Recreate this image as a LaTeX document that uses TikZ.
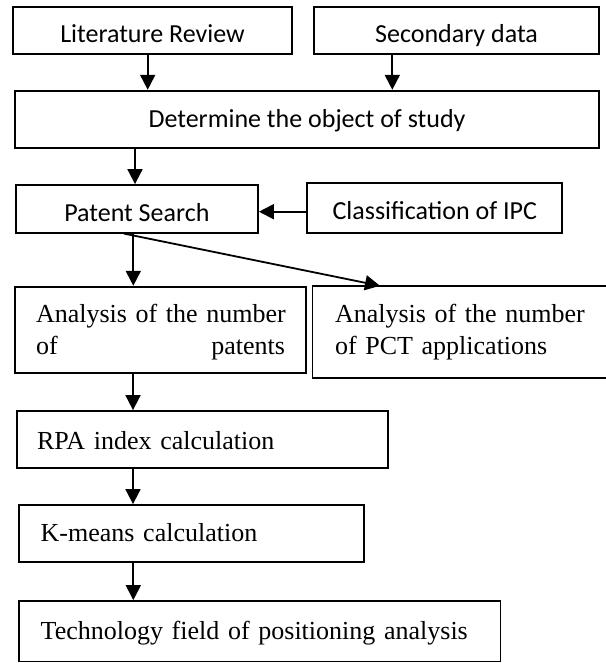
\documentclass[tikz,border=0pt]{standalone}
\usepackage{fontspec}
\usetikzlibrary{arrows.meta}
\newfontfamily\calibrifont{Carlito}
\newfontfamily\timesfont{Liberation Serif}
\tikzset{
  box/.style={draw, line width=1.8pt, rectangle, inner sep=0pt},
  sansbox/.style={box, font=\calibrifont\fontsize{26}{30}\selectfont, align=center},
  serifbox/.style={box, font=\timesfont\fontsize{26}{31.3}\selectfont, align=left},
  arr/.style={line width=1.8pt, -{Triangle[length=15pt,width=15pt]}},
}
\begin{document}
\begin{tikzpicture}[x=1pt,y=-1pt]
\useasboundingbox (0,0) rectangle (605,663);
\fill[white] (0,0) rectangle (605,663);

% top row
\node[sansbox, minimum width=279pt, minimum height=47pt, text height=25pt, text depth=0pt] (lit) at (152.5,30.5) {Literature Review};
\node[sansbox, minimum width=285pt, minimum height=47pt, text height=25pt, text depth=0pt] (sec) at (456.5,30.5) {Secondary data};
\node[sansbox, minimum width=584pt, minimum height=57.3pt, text height=16pt, text depth=0pt] (det) at (307,119.35) {Determine the object of study};

\node[sansbox, minimum width=242.3pt, minimum height=47.7pt, text height=24.5pt, text depth=0pt] (pat) at (136.85,208.85) {Patent Search};
\node[sansbox, minimum width=255pt, minimum height=49.4pt, text height=23.5pt, text depth=0pt] (ipc) at (434.8,208) {Classification of IPC};

% analysis boxes
\node[serifbox, inner xsep=21pt, text width=249pt, minimum width=291pt, minimum height=86pt, text height=10pt, text depth=24pt] (ana1) at (160.5,329.7) {\mbox{Analysis of the number}\\of\hfill patents};
\node[serifbox, draw=none, inner xsep=21.7pt, text width=250.3pt, minimum width=293.7pt, minimum height=90.6pt, text height=10pt, text depth=28.6pt] (ana2) at (460.15,332) {\mbox{Analysis of the number}\\\mbox{of PCT applications}};
\draw[line width=1.8pt] (ana2.north east) -- (ana2.north west) -- (ana2.south west) -- (ana2.south east);

\node[serifbox, inner xsep=20pt, text width=331pt, minimum width=371pt, minimum height=57pt, text height=20pt, text depth=0pt] (rpa) at (202.5,439.5) {RPA index calculation};
\node[serifbox, inner xsep=21.7pt, text width=301.6pt, minimum width=345pt, minimum height=57pt, text height=16pt, text depth=0pt] (km) at (191.5,533.5) {K-means calculation};
\node[serifbox, inner xsep=21.7pt, text width=438pt, minimum width=481.4pt, minimum height=60.5pt, text height=15.5pt, text depth=0pt] (tech) at (259.7,631.25) {Technology field of positioning analysis};

% connectors
\draw[arr] (147.7,0 |- lit.south) -- (147.7,0 |- det.north);
\draw[arr] (392.3,0 |- sec.south) -- (392.3,0 |- det.north);
\draw[arr] (135,0 |- det.south) -- (135,0 |- pat.north);
\draw[arr] (ipc.west |- 0,211.7) -- (pat.east |- 0,211.7);
\draw[arr] (133.3,0 |- pat.south) -- (133.3,0 |- ana1.north);
\draw[arr] (124,0 |- pat.south) -- (380,0 |- ana2.north);
\draw[arr] (133,0 |- ana1.south) -- (133,0 |- rpa.north);
\draw[arr] (133,0 |- rpa.south) -- (133,0 |- km.north);
\draw[arr] (133.3,0 |- km.south) -- (133.3,0 |- tech.north);
\end{tikzpicture}
\end{document}
